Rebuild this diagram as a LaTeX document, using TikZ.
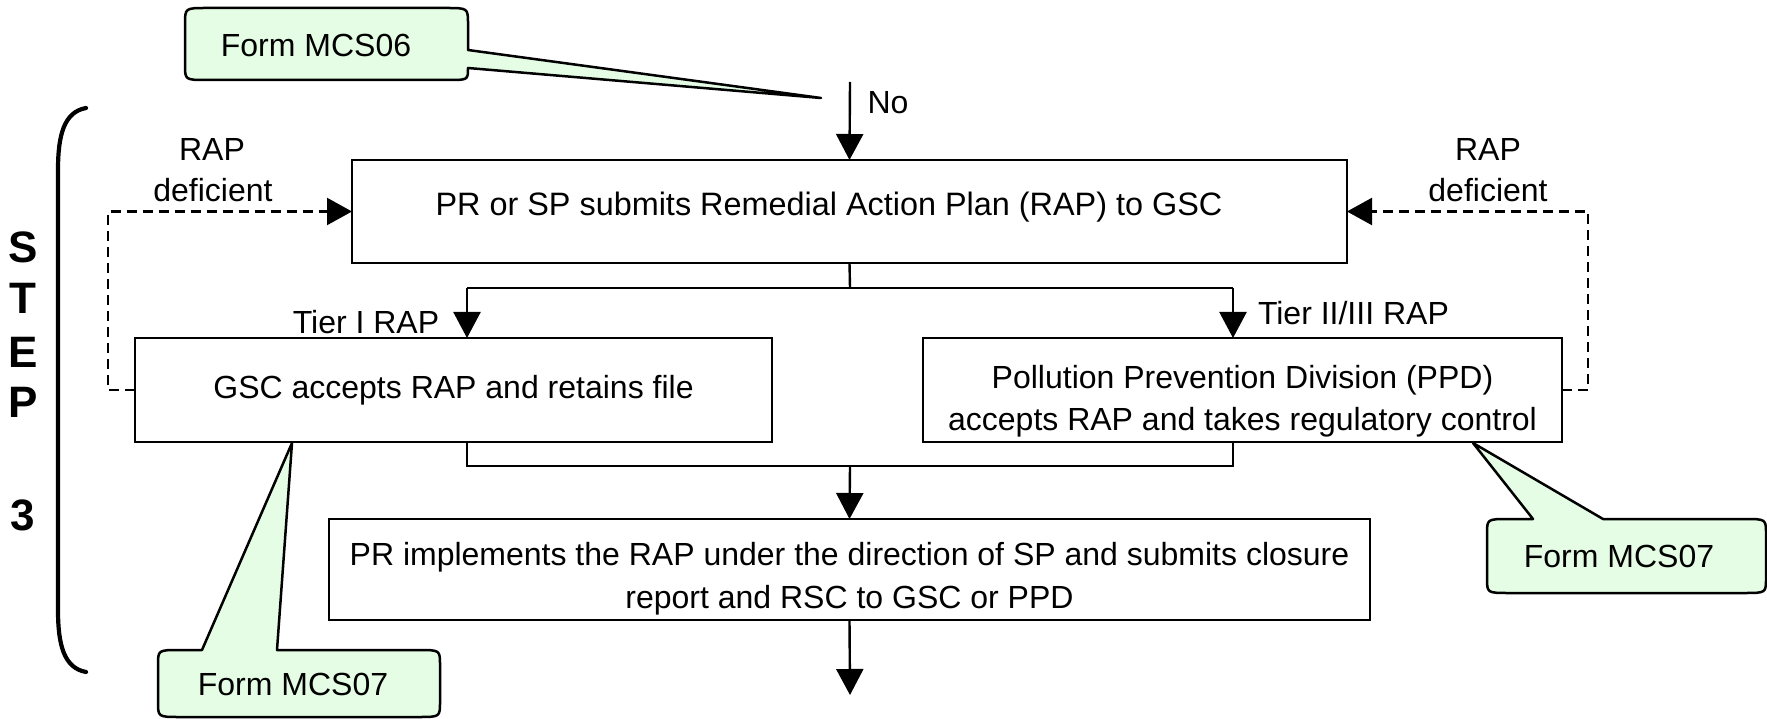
\documentclass[tikz,border=0pt]{standalone}
\usepackage{fontspec}
\setmainfont{Liberation Sans}
\usetikzlibrary{arrows.meta,calc}
\definecolor{notefill}{RGB}{228,253,228}
\begin{document}
\begin{tikzpicture}[x=1pt,y=-1pt,
  every node/.style={inner sep=0pt, outer sep=0pt},
  txt/.style={font=\fontsize{32}{42}\selectfont},
  box/.style={draw, line width=2.6pt, fill=white, font=\fontsize{32}{42}\selectfont},
  steplbl/.style={font=\fontsize{44}{50}\selectfont\bfseries},
  line/.style={line width=2.4pt},
  arr/.style={line width=2.4pt, -{Triangle[length=26pt,width=27pt]}},
  dasharr/.style={line width=2.3pt, dash pattern=on 10pt off 6pt, -{Triangle[length=25pt,width=27pt]}},
  note/.style={draw, line width=2.5pt, fill=notefill, line join=round},
]
\useasboundingbox (0,0) rectangle (1767,719);

% --- process boxes ---
\node[box, minimum width=995, minimum height=103] (rap) at (849.5,211.5) {};
\node[txt, font=\fontsize{32.4}{42}\selectfont] (raptext) at (829,207)
  {PR or SP submits Remedial Action Plan (RAP) to GSC};
\node[box, minimum width=637, minimum height=104] (gsc) at (453.5,390)
  {GSC accepts RAP and retains file};
\node[box, minimum width=639, minimum height=104] (ppd) at (1242.5,390) {};
\node[txt, align=center] (ppdtext) at (1242.5,401)
  {Pollution Prevention Division (PPD)\\accepts RAP and takes regulatory control};
\node[box, minimum width=1041, minimum height=101] (impl) at (849.5,569.5) {};
\node[txt, align=center, font=\fontsize{32}{43}\selectfont] (impltext) at (849.5,578.5)
  {PR implements the RAP under the direction of SP and submits closure\\report and RSC to GSC or PPD};

% --- connector points ---
\coordinate (noTop) at (850,82);
\coordinate (splitL) at (467,288);
\coordinate (splitR) at (1233,288);
\coordinate (mergeL) at (467,466);
\coordinate (mergeR) at (1233,466);
\coordinate (merge) at (850,466);
\coordinate (exitEnd) at (850,695);

% --- solid connectors ---
\draw[arr] (noTop) -- (rap.north);
\draw[line] (rap.south) -- (850,288);
\draw[line] (splitL) -- (splitR);
\draw[arr] (splitL) -- (splitL |- gsc.north);
\draw[arr] (splitR) -- (splitR |- ppd.north);
\draw[line] (mergeL |- gsc.south) -- (mergeL) -- (mergeR) -- (mergeR |- ppd.south);
\draw[arr] (merge) -- (impl.north);
\draw[arr] (impl.south) -- (exitEnd);

% --- dashed return loops ---
\draw[dasharr] (gsc.west) -- ++(-27,0) |- (rap.west);
\draw[dasharr] (ppd.east) -- ++(26,0) |- (rap.east);

% --- labels ---
\node[txt] (no) at (888,103) {No};
\node[txt] (rapL) at (212,149) {RAP};
\node[txt] (defL) at (213,190) {deficient};
\node[txt] (rapR) at (1488,149) {RAP};
\node[txt] (defR) at (1488,190) {deficient};
\node[txt] (tier1) at (366,322) {Tier I RAP};
\node[txt, anchor=west] (tier2) at (1258,313) {Tier II/III RAP};

% --- step bracket ---
\draw[line width=4.2pt, line cap=round]
  (86,108) .. controls (64,112) and (58,135) .. (58,170) -- (58,610)
  .. controls (58,645) and (64,668) .. (86,672);
\node[steplbl] (lS) at (23,247) {S};
\node[steplbl] (lT) at (23,298) {T};
\node[steplbl] (lE) at (23,352) {E};
\node[steplbl] (lP) at (23,402) {P};
\node[steplbl] (l3) at (23,515) {3};

% --- form callouts ---
\coordinate (tip06) at (821,98);
\coordinate (tip07a) at (292,443);
\coordinate (tip07b) at (1473,443);

\filldraw[note] (207,8) -- (446,8) .. controls (468,8) .. (468,24) -- (468,50)
  -- (tip06) -- (468,68) .. controls (468,80) .. (448,80) -- (207,80)
  .. controls (185,80) .. (185,65) -- (185,24) .. controls (185,8) .. (207,8) -- cycle;
\node[txt] (f06) at (316,45) {Form MCS06};

\filldraw[note] (180,650) -- (202,650) -- (tip07a) -- (277,650) -- (418,650)
  .. controls (440,650) .. (440,665) -- (440,702) .. controls (440,717) .. (418,717)
  -- (180,717) .. controls (158,717) .. (158,702) -- (158,665)
  .. controls (158,650) .. (180,650) -- cycle;
\node[txt] (f07a) at (293,684) {Form MCS07};

\filldraw[note] (1509,519) -- (1533,519) -- (tip07b) -- (1603,519) -- (1744,519)
  .. controls (1766,519) .. (1766,534) -- (1766,578) .. controls (1766,593) .. (1744,593)
  -- (1509,593) .. controls (1487,593) .. (1487,578) -- (1487,534)
  .. controls (1487,519) .. (1509,519) -- cycle;
\node[txt] (f07b) at (1619,556) {Form MCS07};
\end{tikzpicture}
\end{document}
